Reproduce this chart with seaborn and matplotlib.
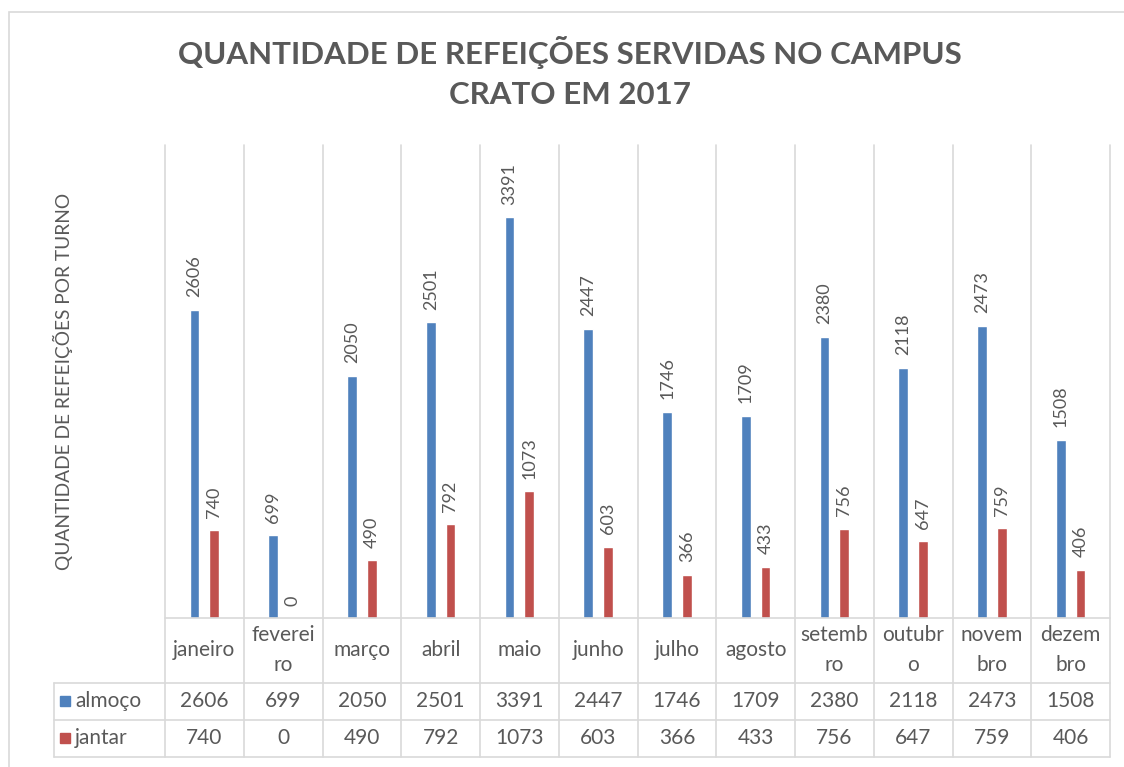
import numpy as np
import pandas as pd
import matplotlib
matplotlib.use("Agg")
import matplotlib.pyplot as plt
from matplotlib.patches import Rectangle
import seaborn as sns

# data
meses = ["janeiro", "fevereiro", "março", "abril", "maio", "junho",
         "julho", "agosto", "setembro", "outubro", "novembro", "dezembro"]
rotulos_meses = ["janeiro", "feverei\nro", "março", "abril", "maio", "junho",
                 "julho", "agosto", "setemb\nro", "outubr\no", "novem\nbro", "dezem\nbro"]
almoco = [2606, 699, 2050, 2501, 3391, 2447, 1746, 1709, 2380, 2118, 2473, 1508]
jantar = [740, 0, 490, 792, 1073, 603, 366, 433, 756, 647, 759, 406]
turnos = ["almoço", "jantar"]
cores = {"almoço": "#4f81bd", "jantar": "#c0504d"}

TXT = "#595959"
GRID = "#d9d9d9"
W, H = 1124, 767

sns.set_theme(style="white")
plt.rcParams["font.family"] = ["Lato", "DejaVu Sans"]

df = pd.DataFrame({
    "mes": rotulos_meses * 2,
    "turno": ["almoço"] * 12 + ["jantar"] * 12,
    "valor": almoco + jantar,
})

fig = plt.figure(figsize=(W / 100, H / 100), dpi=100)
fig.patch.set_facecolor("white")

# plot area in pixels: x 165..1110, y 145..618
left, right, top, base = 165, 1110, 145, 618
ax = fig.add_axes([left / W, 1 - base / H, (right - left) / W, (base - top) / H])

sns.barplot(data=df, x="mes", y="valor", hue="turno", order=rotulos_meses,
            hue_order=turnos, palette=cores, width=0.5, gap=0.5,
            saturation=1, legend=False, ax=ax)

ax.set_ylim(0, 4000)
ax.set_xlim(-0.5, 11.5)
ax.set_yticks([])
ax.set_ylabel("QUANTIDADE DE REFEIÇÕES POR TURNO", color=TXT, fontsize=13.8,
              labelpad=66)
ax.set_xlabel("")
for s in ax.spines.values():
    s.set_visible(False)

for cont in ax.containers:
    ax.bar_label(cont, fmt="%d", rotation=90, padding=9, color=TXT, fontsize=13)

# month labels in the first table row
ax.set_xticks(range(12), labels=rotulos_meses)
ax.tick_params(axis="x", length=0, pad=23, labelsize=15, labelcolor=TXT)
for lab in ax.get_xticklabels():
    lab.set_va("center")
    lab.set_linespacing(1.6)

ph = base - top
pw = right - left


def fy(py):
    return (base - py) / ph


def fx(px):
    return (px - left) / pw


# vertical grid lines through plot and table
for i in range(13):
    ax.plot([i / 12, i / 12], [fy(top), fy(757)], transform=ax.transAxes,
            color=GRID, lw=1.2, clip_on=False, zorder=0)
# horizontal table lines
ax.plot([0, 1], [0, 0], transform=ax.transAxes, color=GRID, lw=1.2, clip_on=False)
for py in (683, 720, 757):
    ax.plot([fx(54), 1], [fy(py), fy(py)], transform=ax.transAxes,
            color=GRID, lw=1.2, clip_on=False)
ax.plot([fx(54), fx(54)], [fy(683), fy(757)], transform=ax.transAxes,
        color=GRID, lw=1.2, clip_on=False)

# table body
for serie, valores, py in (("almoço", almoco, 701), ("jantar", jantar, 738)):
    ax.add_patch(Rectangle((fx(60), fy(py) - 5 / ph), 10 / pw, 10 / ph,
                           transform=ax.transAxes, color=cores[serie],
                           clip_on=False))
    ax.text(fx(75), fy(py), serie, transform=ax.transAxes, ha="left",
            va="center", fontsize=15, color=TXT)
    for i, v in enumerate(valores):
        ax.text(i, fy(py), f"{v}", transform=ax.get_xaxis_transform(),
                ha="center", va="center", fontsize=15, color=TXT)

# chart border
fig.add_artist(Rectangle((9 / W, -0.05), 1.2, 1.05 - 12 / H, transform=fig.transFigure,
                         fill=False, edgecolor=GRID, lw=1.2))

fig.text(570 / W, 1 - 72.5 / H,
         "QUANTIDADE DE REFEIÇÕES SERVIDAS NO CAMPUS\nCRATO EM 2017",
         ha="center", va="center", multialignment="center", linespacing=1.55,
         fontsize=22.5, fontweight="bold", color=TXT)

fig.savefig("out.png", dpi=100)
